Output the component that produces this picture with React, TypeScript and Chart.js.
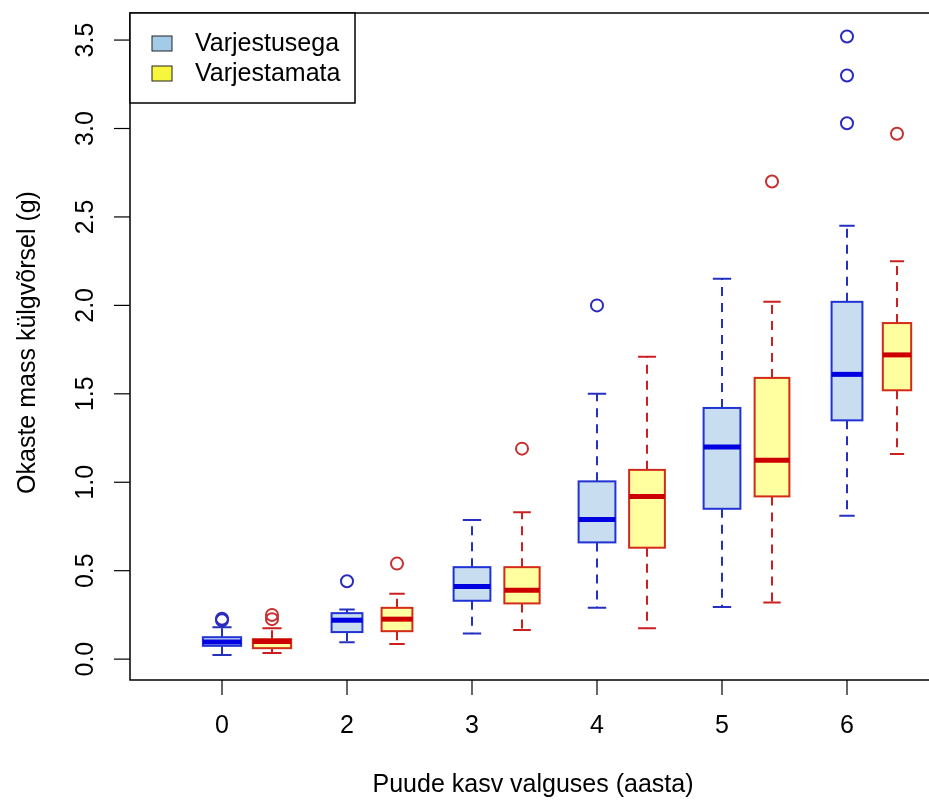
import React, { useEffect, useRef } from 'react';
import { Chart, registerables } from 'chart.js';

Chart.register(...registerables);

// ---- data ----
const categories = ['0', '2', '3', '4', '5', '6'];
const seriesNames = ['Varjestusega', 'Varjestamata'];

// Varjestusega (shaded)
const shadedLow = [0.023, 0.096, 0.145, 0.29, 0.295, 0.81];
const shadedQ1 = [0.075, 0.153, 0.33, 0.66, 0.85, 1.35];
const shadedMedian = [0.097, 0.22, 0.41, 0.79, 1.2, 1.61];
const shadedQ3 = [0.124, 0.26, 0.52, 1.005, 1.42, 2.02];
const shadedHigh = [0.18, 0.28, 0.786, 1.5, 2.15, 2.45];
const shadedOutliers = [[0.22, 0.228], [0.44], [], [2.0], [], [3.03, 3.3, 3.52]];
const shadedN = [40, 26, 37, 37, 37, 26];

// Varjestamata (unshaded)
const openLow = [0.034, 0.085, 0.165, 0.175, 0.32, 1.16];
const openQ1 = [0.062, 0.158, 0.315, 0.63, 0.92, 1.52];
const openMedian = [0.1, 0.226, 0.39, 0.92, 1.125, 1.72];
const openQ3 = [0.113, 0.29, 0.52, 1.07, 1.59, 1.9];
const openHigh = [0.175, 0.37, 0.83, 1.71, 2.02, 2.25];
const openOutliers = [[0.226, 0.25], [0.54], [1.19], [], [2.7], [2.97]];
const openN = [40, 26, 34, 35, 33, 22];

const yTicks = [0, 0.5, 1, 1.5, 2, 2.5, 3, 3.5];
const yTickLabels = ['0.0', '0.5', '1.0', '1.5', '2.0', '2.5', '3.0', '3.5'];
const xTitle = 'Puude kasv valguses (aasta)';
const yTitle = 'Okaste mass külgvõrsel (g)';

// ---- styling ----
const FONT = '"Liberation Sans", Arial, Helvetica, sans-serif';
const FS = 25;
const SERIES_OFFSET = [0, 0.4];
const BOX_HALF = 0.153; // in x units, for the largest group
const styles = [
  {
    fill: '#c8ddf0',
    border: '#2233d4',
    median: '#0000e0',
    whisker: '#2430c0',
    outlier: '#2a2abf',
    legendFill: '#a3cbe8',
  },
  {
    fill: '#ffffa0',
    border: '#d42a18',
    median: '#cc0000',
    whisker: '#cc2020',
    outlier: '#c63030',
    legendFill: '#f6f63c',
  },
];

const seriesStats = [
  { low: shadedLow, q1: shadedQ1, med: shadedMedian, q3: shadedQ3, high: shadedHigh, n: shadedN },
  { low: openLow, q1: openQ1, med: openMedian, q3: openQ3, high: openHigh, n: openN },
];

const boxPlugin = {
  id: 'rBoxes',
  beforeDatasetsDraw(chart: any) {
    const { ctx, scales } = chart;
    const x = scales.x;
    const y = scales.y;
    const nMax = Math.max(...shadedN, ...openN);
    ctx.save();
    seriesStats.forEach((s, si) => {
      const st = styles[si];
      categories.forEach((_, i) => {
        const xv = i + 1 + SERIES_OFFSET[si];
        const cx = x.getPixelForValue(xv);
        const half =
          (x.getPixelForValue(xv + BOX_HALF) - cx) * Math.sqrt(s.n[i] / nMax);
        const pLow = y.getPixelForValue(s.low[i]);
        const pQ1 = y.getPixelForValue(s.q1[i]);
        const pMed = y.getPixelForValue(s.med[i]);
        const pQ3 = y.getPixelForValue(s.q3[i]);
        const pHigh = y.getPixelForValue(s.high[i]);
        // whiskers (dashed)
        ctx.strokeStyle = st.whisker;
        ctx.lineWidth = 2;
        ctx.setLineDash([9, 7]);
        ctx.beginPath();
        ctx.moveTo(cx, pQ3);
        ctx.lineTo(cx, pHigh);
        ctx.moveTo(cx, pQ1);
        ctx.lineTo(cx, pLow);
        ctx.stroke();
        ctx.setLineDash([]);
        // staples
        const sh = half * 0.5;
        ctx.beginPath();
        ctx.moveTo(cx - sh, pHigh);
        ctx.lineTo(cx + sh, pHigh);
        ctx.moveTo(cx - sh, pLow);
        ctx.lineTo(cx + sh, pLow);
        ctx.stroke();
        // box
        ctx.fillStyle = st.fill;
        ctx.fillRect(cx - half, pQ3, half * 2, pQ1 - pQ3);
        ctx.strokeStyle = st.border;
        ctx.lineWidth = 2;
        ctx.strokeRect(cx - half, pQ3, half * 2, pQ1 - pQ3);
        // median
        ctx.strokeStyle = st.median;
        ctx.lineWidth = 5;
        ctx.beginPath();
        ctx.moveTo(cx - half, pMed);
        ctx.lineTo(cx + half, pMed);
        ctx.stroke();
      });
    });
    ctx.restore();
  },
  afterDraw(chart: any) {
    const { ctx, chartArea, scales } = chart;
    const x = scales.x;
    const y = scales.y;
    ctx.save();
    // frame
    ctx.strokeStyle = '#000';
    ctx.lineWidth = 1.5;
    ctx.strokeRect(chartArea.left, chartArea.top, chartArea.right - chartArea.left, chartArea.bottom - chartArea.top);
    ctx.fillStyle = '#000';
    ctx.font = `${FS}px ${FONT}`;
    // y axis ticks
    ctx.lineWidth = 1.2;
    yTicks.forEach((v, k) => {
      const py = y.getPixelForValue(v);
      ctx.beginPath();
      ctx.moveTo(chartArea.left - 16, py);
      ctx.lineTo(chartArea.left, py);
      ctx.stroke();
      ctx.save();
      ctx.translate(chartArea.left - 44, py);
      ctx.rotate(-Math.PI / 2);
      ctx.textAlign = 'center';
      ctx.textBaseline = 'middle';
      ctx.fillText(yTickLabels[k], 0, 0);
      ctx.restore();
    });
    // x axis ticks
    categories.forEach((c, i) => {
      const px = x.getPixelForValue(i + 1);
      ctx.beginPath();
      ctx.moveTo(px, chartArea.bottom);
      ctx.lineTo(px, chartArea.bottom + 15);
      ctx.stroke();
      ctx.textAlign = 'center';
      ctx.textBaseline = 'middle';
      ctx.fillText(c, px, chartArea.bottom + 46);
    });
    // titles
    ctx.textAlign = 'center';
    ctx.textBaseline = 'middle';
    ctx.fillText(xTitle, (chartArea.left + chartArea.right) / 2 + 2, chartArea.bottom + 105);
    ctx.save();
    ctx.translate(28, (chartArea.top + chartArea.bottom) / 2 - 4);
    ctx.rotate(-Math.PI / 2);
    ctx.fillText(yTitle, 0, 0);
    ctx.restore();
    // legend
    const lx = chartArea.left;
    const ly = chartArea.top;
    ctx.fillStyle = '#fff';
    ctx.fillRect(lx, ly, 225, 90);
    ctx.strokeStyle = '#000';
    ctx.lineWidth = 1.5;
    ctx.strokeRect(lx, ly, 225, 90);
    seriesNames.forEach((name, k) => {
      const cy = ly + 31 + k * 30;
      ctx.fillStyle = styles[k].legendFill;
      ctx.fillRect(lx + 22, cy - 8, 20, 15);
      ctx.strokeStyle = '#222';
      ctx.lineWidth = 1;
      ctx.strokeRect(lx + 22, cy - 8, 20, 15);
      ctx.fillStyle = '#000';
      ctx.textAlign = 'left';
      ctx.textBaseline = 'middle';
      ctx.fillText(name, lx + 65, cy);
    });
    ctx.restore();
  },
};

export default function App() {
  const canvasRef = useRef<HTMLCanvasElement | null>(null);

  useEffect(() => {
    if (!canvasRef.current) return;
    const outlierData = (arr: number[][], off: number) =>
      arr.flatMap((vals, i) => vals.map((v) => ({ x: i + 1 + off, y: v })));
    const chart = new Chart(canvasRef.current, {
      type: 'scatter',
      data: {
        datasets: [
          {
            label: seriesNames[0],
            data: outlierData(shadedOutliers, SERIES_OFFSET[0]),
            pointStyle: 'circle',
            pointRadius: 6,
            pointBorderWidth: 2,
            pointBackgroundColor: 'rgba(0,0,0,0)',
            pointBorderColor: styles[0].outlier,
          },
          {
            label: seriesNames[1],
            data: outlierData(openOutliers, SERIES_OFFSET[1]),
            pointStyle: 'circle',
            pointRadius: 6,
            pointBorderWidth: 2,
            pointBackgroundColor: 'rgba(0,0,0,0)',
            pointBorderColor: styles[1].outlier,
          },
        ],
      },
      options: {
        responsive: false,
        animation: false,
        devicePixelRatio: 1,
        layout: { padding: { left: 130, top: 13, right: 0, bottom: 123 } },
        plugins: { legend: { display: false }, tooltip: { enabled: false } },
        scales: {
          x: { type: 'linear', min: 0.264, max: 6.68, display: false },
          y: { type: 'linear', min: -0.118, max: 3.653, display: false },
        },
      },
      plugins: [boxPlugin],
    });
    return () => chart.destroy();
  }, []);

  return (
    <div
      style={{
        position: 'absolute',
        left: 0,
        top: 0,
        width: 929,
        height: 803,
        overflow: 'hidden',
        background: '#fff',
      }}
    >
      <canvas ref={canvasRef} width={940} height={803} style={{ display: 'block' }} />
    </div>
  );
}
